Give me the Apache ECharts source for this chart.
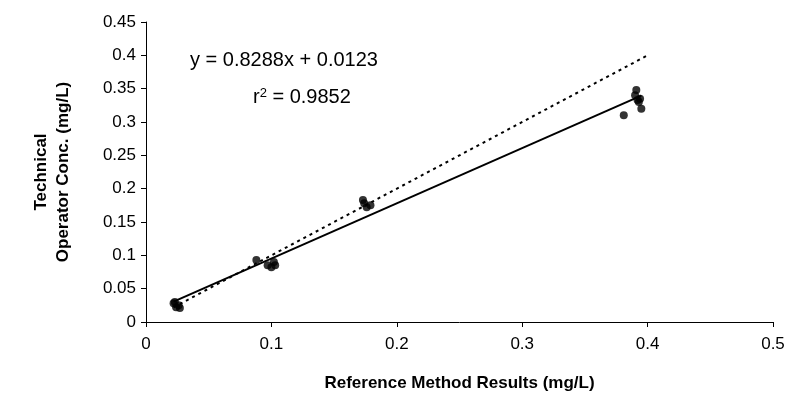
<!DOCTYPE html>
<html><head><meta charset="utf-8">
<script src="https://cdn.jsdelivr.net/npm/echarts@6/dist/echarts.min.js"></script>
<style>html,body{margin:0;background:#fff}#c{width:791px;height:412px}</style>
</head><body><div id="c"></div>
<script>
var refX = [0.022, 0.024, 0.026, 0.023, 0.027, 0.088, 0.097, 0.100, 0.102, 0.103, 0.173, 0.174, 0.176, 0.179, 0.381, 0.390, 0.391, 0.392, 0.393, 0.394, 0.395];
var opY  = [0.028, 0.022, 0.025, 0.030, 0.021, 0.093, 0.085, 0.082, 0.090, 0.085, 0.183, 0.178, 0.172, 0.175, 0.310, 0.340, 0.348, 0.333, 0.330, 0.335, 0.320];
var slope = 0.8288, intercept = 0.0123;
var fitRange = [0.022, 0.395];
var oneToOne = [0.022, 0.4];

var chart = echarts.init(document.getElementById('c'));
var font = 'Liberation Sans, Arial, sans-serif';
chart.setOption({
    animation: false,
    grid: {left: 146, right: 18, top: 22, bottom: 90},
    xAxis: {
        type: 'value', min: 0, max: 0.5, interval: 0.1,
        name: 'Reference Method Results (mg/L)', nameLocation: 'middle', nameGap: 53,
        nameTextStyle: {fontFamily: font, fontSize: 17, fontWeight: 'bold', color: '#000'},
        axisLine: {lineStyle: {color: '#000'}},
        axisTick: {lineStyle: {color: '#000'}, length: 5},
        axisLabel: {fontFamily: font, fontSize: 17, color: '#000', margin: 14},
        splitLine: {show: false}
    },
    yAxis: {
        type: 'value', min: 0, max: 0.45, interval: 0.05,
        name: 'Technical\nOperator Conc. (mg/L)', nameLocation: 'middle', nameGap: 72,
        nameTextStyle: {fontFamily: font, fontSize: 17, fontWeight: 'bold', color: '#000', lineHeight: 22},
        axisLine: {show: true, lineStyle: {color: '#000'}},
        axisTick: {show: true, lineStyle: {color: '#000'}, length: 5},
        axisLabel: {fontFamily: font, fontSize: 17, color: '#000', margin: 10},
        splitLine: {show: false}
    },
    graphic: [
        {type: 'text', left: 190, top: 50, style: {text: 'y = 0.8288x + 0.0123', fontFamily: font, fontSize: 20, fill: '#000'}},
        {type: 'text', left: 253, top: 87, style: {
            text: '{b|r}{s|2}{b| = 0.9852}',
            rich: {b: {fontFamily: font, fontSize: 20, fill: '#000', verticalAlign: 'bottom'},
                   s: {fontFamily: font, fontSize: 13, fill: '#000', verticalAlign: 'top'}}}}
    ],
    series: [
        {type: 'scatter', symbol: 'circle', symbolSize: 8, itemStyle: {color: '#000'},
         data: refX.map(function (x, i) { return [x, opY[i]]; })},
        {type: 'line', symbol: 'none', lineStyle: {color: '#000', width: 2},
         data: fitRange.map(function (x) { return [x, slope * x + intercept]; })},
        {type: 'line', symbol: 'none', lineStyle: {color: '#000', width: 2, type: [3, 4]},
         data: oneToOne.map(function (x) { return [x, x]; })}
    ]
});
</script></body></html>
